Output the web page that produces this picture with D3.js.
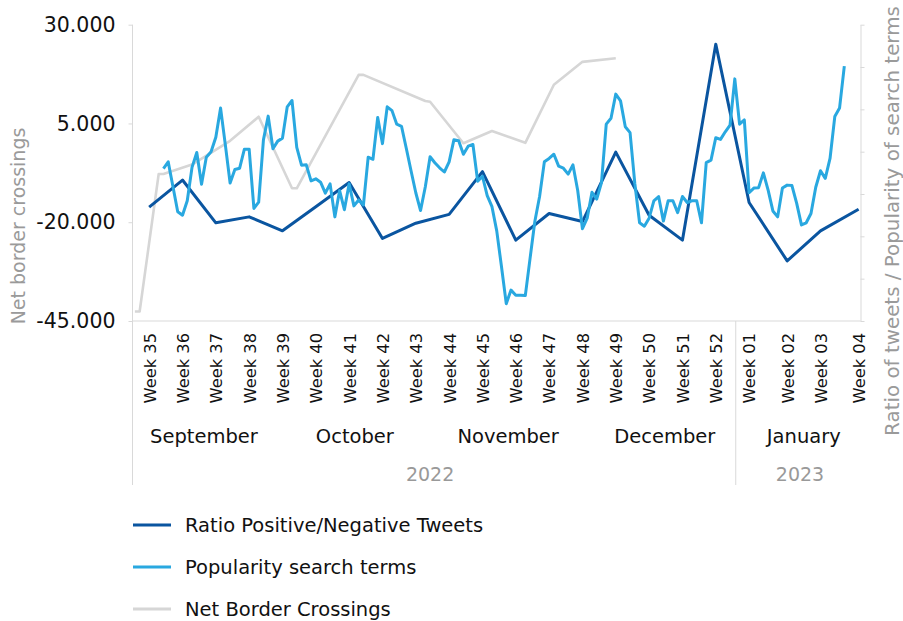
<!DOCTYPE html>
<html>
<head>
<meta charset="utf-8">
<script src="https://cdn.jsdelivr.net/npm/d3@7"></script>
<style>
  body { margin: 0; background: #fff; }
  svg { display: block; font-family: 'DejaVu Sans', sans-serif; }
</style>
</head>
<body>
<svg id="chart" width="903" height="621"></svg>
<script>
// x positions are days counted from the week 35 point
let weekLabels = ['Week 35', 'Week 36', 'Week 37', 'Week 38', 'Week 39', 'Week 40', 'Week 41',
    'Week 42', 'Week 43', 'Week 44', 'Week 45', 'Week 46', 'Week 47', 'Week 48', 'Week 49',
    'Week 50', 'Week 51', 'Week 52', 'Week 01', 'Week 02', 'Week 03', 'Week 04'];
let weekDays = [0, 7, 14, 21, 28, 35, 42, 49, 56, 63, 70, 77, 84, 91, 98, 105, 112, 119,
    126, 134, 141, 149];

// ratio positive / negative tweets (right axis, one value per week)
let ratioTweets = [26.9, 33.3, 23.2, 24.6, 21.3, 27.0, 32.7, 19.5, 23.1, 25.2, 35.3, 19.1,
    25.4, 23.5, 39.9, 25.0, 19.1, 65.4, 28.0, 14.2, 21.3, 26.4];

// popularity of search terms (right axis, daily, first day = searchStart)
let searchStart = 3;
let searchPopularity = [
    36.0, 37.6, 31.7, 25.8, 25.0, 28.4, 36.3, 39.8, 32.3, 38.7, 40.0, 43.4, 50.3, 41.6, 32.6,
    35.8, 36.1, 40.6, 40.6, 26.6, 28.1, 42.8, 48.4, 40.7, 42.5, 43.2, 50.6, 52.1, 41.0, 36.8,
    36.9, 33.1, 33.6, 32.8, 30.2, 32.4, 24.6, 30.8, 26.3, 32.4, 27.2, 28.6, 27.4, 38.7, 38.2,
    48.1, 41.9, 50.6, 49.7, 46.5, 46.0, 40.8, 35.5, 30.3, 26.1, 31.7, 38.8, 37.4, 36.2, 35.2,
    37.6, 42.8, 42.6, 39.4, 41.3, 41.7, 33.0, 34.2, 29.6, 27.0, 21.3, 12.8, 4.1, 7.3, 6.1,
    6.1, 6.0, 14.8, 23.5, 29.4, 37.6, 38.4, 39.4, 36.6, 36.1, 34.7, 36.9, 30.9, 21.8, 24.3,
    30.4, 28.8, 32.7, 46.5, 47.9, 53.6, 52.0, 45.9, 44.5, 32.5, 23.2, 22.4, 24.3, 28.4, 29.4,
    23.6, 28.4, 28.4, 25.6, 29.4, 28.0, 28.4, 28.4, 23.2, 37.4, 38.0, 43.3, 42.9, 44.7, 46.3,
    57.2, 46.5, 47.5, 30.3, 31.4, 31.5, 35.0, 30.9, 26.0, 24.6, 31.4, 32.1, 32.0, 27.8, 22.7,
    23.2, 25.4, 31.6, 35.5, 33.7, 38.4, 48.3, 50.3, 60.2];

// net border crossings (left axis)
let crossingDays = [-3, -2, 2, 3, 9, 17, 23, 30, 31, 44, 45, 58, 59, 66, 72, 79, 85, 91, 98];
let borderCrossings = [-42600, -42600, -7800, -7800, -5400, 600, 6700, -11400, -11400, 17300,
    17300, 10700, 10500, 0, 3100, 100, 14800, 20600, 21500];

let leftTicks = [-45000, -20000, 5000, 30000];
let rightTicks = [0, 10, 20, 30, 40, 50, 60, 70];

let months = ['September', 'October', 'November', 'December', 'January'];
let monthDays = [11.5, 43.2, 75.4, 108.3, 137.5];
let years = ['2022', '2023'];
let yearDays = [59, 136.7];
let yearBreak = 123.2;

let legendNames = ['Ratio Positive/Negative Tweets', 'Popularity search terms', 'Net Border Crossings'];
let colors = ['#0a55a0', '#29a8e0', '#d6d6d6'];

let svg = d3.select('#chart');
let margin = { left: 132.5, right: 860.5, top: 24.7, bottom: 321, axisEnd: 485 };
let axisColor = '#d9d9d9';

let x = d3.scaleLinear().domain([-3.5, 149.4]).range([margin.left, margin.right]);
let yLeft = d3.scaleLinear().domain([-45000, 30000]).range([margin.bottom, margin.top]);
let yRight = d3.scaleLinear().domain([0, 70]).range([margin.bottom, margin.top]);

let locale = d3.formatLocale({ decimal: ',', thousands: '.', grouping: [3], currency: ['', ''], minus: '-' });

// left axis
let leftAxis = svg.append('g')
    .attr('transform', `translate(${margin.left},0)`)
    .call(d3.axisLeft(yLeft).tickValues(leftTicks).tickSize(4).tickPadding(13)
        .tickFormat(locale.format(',')));
leftAxis.select('.domain').remove();
leftAxis.selectAll('line').attr('stroke', axisColor);
leftAxis.selectAll('text')
    .attr('font-size', 20.5)
    .attr('font-family', 'DejaVu Sans')
    .attr('fill', '#111');

// right axis, ticks only
let rightAxis = svg.append('g')
    .attr('transform', `translate(${margin.right},0)`)
    .call(d3.axisRight(yRight).tickValues(rightTicks).tickSize(4).tickSizeOuter(0).tickFormat(''));
rightAxis.selectAll('path, line').attr('stroke', axisColor);

// frame lines: left axis (down through the label area), baseline, year break
svg.append('line')
    .attr('x1', margin.left).attr('x2', margin.left)
    .attr('y1', margin.top).attr('y2', margin.axisEnd)
    .attr('stroke', axisColor);
svg.append('line')
    .attr('x1', margin.left).attr('x2', margin.right)
    .attr('y1', margin.bottom).attr('y2', margin.bottom)
    .attr('stroke', axisColor);
svg.append('line')
    .attr('x1', x(yearBreak)).attr('x2', x(yearBreak))
    .attr('y1', margin.bottom).attr('y2', margin.axisEnd)
    .attr('stroke', axisColor);

// week labels
let weekAxis = svg.append('g')
    .attr('transform', `translate(0,${margin.bottom})`)
    .call(d3.axisBottom(x).tickValues(weekDays).tickSize(0)
        .tickFormat((d, i) => weekLabels[i]));
weekAxis.select('.domain').remove();
weekAxis.selectAll('text')
    .attr('transform', 'rotate(-90)')
    .attr('text-anchor', 'end')
    .attr('x', -12)
    .attr('y', 0)
    .attr('dy', '0.36em')
    .attr('font-size', 16.3)
    .attr('font-family', 'DejaVu Sans')
    .attr('fill', '#111');

// month and year labels
svg.selectAll('text.month')
    .data(months)
    .enter().append('text')
    .attr('class', 'month')
    .attr('x', (d, i) => x(monthDays[i]))
    .attr('y', 443)
    .attr('text-anchor', 'middle')
    .attr('font-size', 19.5)
    .attr('fill', '#111')
    .text(d => d);

svg.selectAll('text.year')
    .data(years)
    .enter().append('text')
    .attr('class', 'year')
    .attr('x', (d, i) => x(yearDays[i]))
    .attr('y', 480.5)
    .attr('text-anchor', 'middle')
    .attr('font-size', 19)
    .attr('fill', '#999')
    .text(d => d);

// axis titles
svg.append('text')
    .attr('transform', 'translate(25,226) rotate(-90)')
    .attr('text-anchor', 'middle')
    .attr('font-size', 19)
    .attr('fill', '#9a9a9a')
    .text('Net border crossings');

let rightTitle = svg.append('text')
    .attr('transform', 'translate(899,221) rotate(-90)')
    .attr('text-anchor', 'middle')
    .attr('font-size', 20)
    .attr('fill', '#9a9a9a')
    .text('Ratio of tweets / Popularity of search terms');

// shrink the long title so it runs from the top edge down to the year row
let titleLen = rightTitle.node().getComputedTextLength();
if (titleLen > 430) rightTitle.attr('font-size', 20 * 430 / titleLen);

// series
let crossingData = crossingDays.map((d, i) => ({ day: d, v: borderCrossings[i] }));
let ratioData = weekDays.map((d, i) => ({ day: d, v: ratioTweets[i] }));
let searchData = searchPopularity.map((v, i) => ({ day: searchStart + i, v: v }));

let lineLeft = d3.line().x(d => x(d.day)).y(d => yLeft(d.v));
let lineRight = d3.line().x(d => x(d.day)).y(d => yRight(d.v));

svg.append('path')
    .datum(crossingData)
    .attr('d', lineLeft)
    .attr('fill', 'none')
    .attr('stroke', colors[2])
    .attr('stroke-width', 2.6)
    .attr('stroke-linejoin', 'round');

svg.append('path')
    .datum(ratioData)
    .attr('d', lineRight)
    .attr('fill', 'none')
    .attr('stroke', colors[0])
    .attr('stroke-width', 3)
    .attr('stroke-linejoin', 'round');

svg.append('path')
    .datum(searchData)
    .attr('d', lineRight)
    .attr('fill', 'none')
    .attr('stroke', colors[1])
    .attr('stroke-width', 3)
    .attr('stroke-linejoin', 'round');

// legend
let legend = svg.selectAll('g.legend')
    .data(legendNames)
    .enter().append('g')
    .attr('class', 'legend')
    .attr('transform', (d, i) => `translate(133,${525 + i * 42})`);

legend.append('line')
    .attr('x1', 0).attr('x2', 38)
    .attr('stroke', (d, i) => colors[i])
    .attr('stroke-width', 3);

legend.append('text')
    .attr('x', 52)
    .attr('dy', '0.36em')
    .attr('font-size', 19.5)
    .attr('fill', '#111')
    .text(d => d);
</script>
</body>
</html>
